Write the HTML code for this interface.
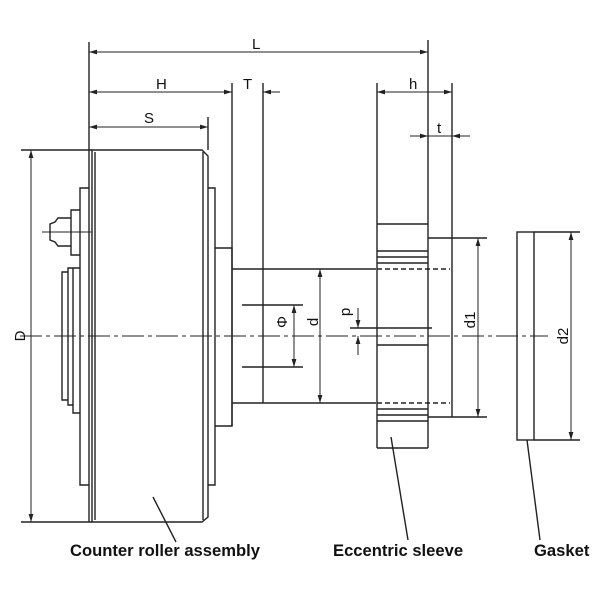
<!DOCTYPE html>
<html><head><style>
body{margin:0;background:#fff}
svg{display:block}
text{font-family:"Liberation Sans",sans-serif;fill:#111}
.l{font-size:15px}
.b{font-size:16.6px;font-weight:bold}
</style></head><body>
<svg width="600" height="600" viewBox="0 0 600 600">
<defs>
<marker id="a" viewBox="0 0 10 6" refX="10" refY="3" markerWidth="8" markerHeight="5" orient="auto-start-reverse" markerUnits="userSpaceOnUse"><path d="M0,0 L10,3 L0,6 z" fill="#222"/></marker>
</defs>
<g stroke="#222" stroke-width="1.4" fill="none">
<line x1="20" y1="336" x2="548" y2="336" stroke-dasharray="22,4,4,4" stroke-width="1"/>
<path d="M89,522 L89,150 M95,520 L95,152 M92,150 L202,150 L208,156 L208,517 L202,522 L92,522 Z"/>
<line x1="203" y1="152" x2="203" y2="520"/>
<path d="M208,188 L215,188 L215,485 L208,485"/>
<path d="M215,248 L232,248 L232,426 L215,426"/>
<path d="M232,269 L376,269 M232,403 L376,403"/>
<line x1="232" y1="83" x2="232" y2="426"/>
<line x1="263" y1="83" x2="263" y2="403"/>
<path d="M89,188 L80,188 L80,485 L89,485"/>
<path d="M80,210 L71,210 L71,255 L80,255"/>
<path d="M71,218 L58,218 L55,222 L50,224 L50,240 L55,242 L58,246 L71,246"/>
<line x1="42" y1="232" x2="92" y2="232" stroke-width="1"/>
<path d="M80,268 L68,268 L68,405 L73,405 L73,413 L80,413"/>
<path d="M68,272 L62,272 L62,400 L68,400"/>
<line x1="73" y1="268" x2="73" y2="405"/>
<path d="M242,305 L303,305 M242,367 L303,367"/>
<line x1="294" y1="305" x2="294" y2="367" marker-start="url(#a)" marker-end="url(#a)" stroke-width="1"/>
<line x1="320" y1="269" x2="320" y2="403" marker-start="url(#a)" marker-end="url(#a)" stroke-width="1"/>
<line x1="377" y1="83" x2="377" y2="448"/>
<line x1="428" y1="40" x2="428" y2="448"/>
<line x1="452" y1="83" x2="452" y2="417"/>
<path d="M377,224 L428,224 M377,448 L428,448"/>
<path d="M377,251 L428,251 M377,257 L428,257 M377,263 L428,263"/>
<path d="M377,409 L428,409 M377,415 L428,415 M377,421 L428,421"/>
<path d="M377,269 L450,269 M377,403 L450,403" stroke-dasharray="5,3"/>
<path d="M377,345 L428,345"/>
<path d="M350,328 L432,328"/>
<line x1="358" y1="308" x2="358" y2="328" marker-end="url(#a)" stroke-width="1"/>
<line x1="358" y1="355" x2="358" y2="336" marker-end="url(#a)" stroke-width="1"/>
<path d="M428,238 L487,238 M428,417 L487,417"/>
<line x1="478" y1="238" x2="478" y2="417" marker-start="url(#a)" marker-end="url(#a)" stroke-width="1"/>
<rect x="517" y="232" width="17" height="208"/>
<path d="M534,232 L580,232 M534,440 L580,440"/>
<line x1="571" y1="232" x2="571" y2="440" marker-start="url(#a)" marker-end="url(#a)" stroke-width="1"/>
<line x1="89" y1="42" x2="89" y2="150"/>
<line x1="208" y1="117" x2="208" y2="150"/>
<line x1="89" y1="52" x2="428" y2="52" marker-start="url(#a)" marker-end="url(#a)" stroke-width="1"/>
<line x1="89" y1="92" x2="232" y2="92" marker-start="url(#a)" marker-end="url(#a)" stroke-width="1"/>
<line x1="280" y1="92" x2="263" y2="92" marker-end="url(#a)" stroke-width="1"/>
<line x1="89" y1="127" x2="208" y2="127" marker-start="url(#a)" marker-end="url(#a)" stroke-width="1"/>
<line x1="377" y1="92" x2="452" y2="92" marker-start="url(#a)" marker-end="url(#a)" stroke-width="1"/>
<line x1="410" y1="136" x2="428" y2="136" marker-end="url(#a)" stroke-width="1"/>
<line x1="470" y1="136" x2="452" y2="136" marker-end="url(#a)" stroke-width="1"/>
<line x1="428" y1="136" x2="452" y2="136" stroke-width="1"/>
<path d="M21,150 L92,150 M21,522 L92,522"/>
<line x1="31" y1="150" x2="31" y2="522" marker-start="url(#a)" marker-end="url(#a)" stroke-width="1"/>
<path d="M153,497 L176,542 M391,437 L408,540 M527,440 L540,540"/>
</g>
<text class="l" x="252" y="49">L</text>
<text class="l" x="156" y="89">H</text>
<text class="l" x="243" y="89">T</text>
<text class="l" x="144" y="123">S</text>
<text class="l" x="409" y="89">h</text>
<text class="l" x="437" y="133">t</text>
<text class="l" transform="translate(25,336) rotate(-90)" text-anchor="middle">D</text>
<text class="l" transform="translate(287,322) rotate(-90)" text-anchor="middle">Φ</text>
<text class="l" transform="translate(318,322) rotate(-90)" text-anchor="middle">d</text>
<text class="l" transform="translate(350,312) rotate(-90)" text-anchor="middle">p</text>
<text class="l" transform="translate(475,320) rotate(-90)" text-anchor="middle">d1</text>
<text class="l" transform="translate(568,336) rotate(-90)" text-anchor="middle">d2</text>
<text class="b" x="70" y="556">Counter roller assembly</text>
<text class="b" x="333" y="556">Eccentric sleeve</text>
<text class="b" x="534" y="556">Gasket</text>
</svg>
</body></html>
